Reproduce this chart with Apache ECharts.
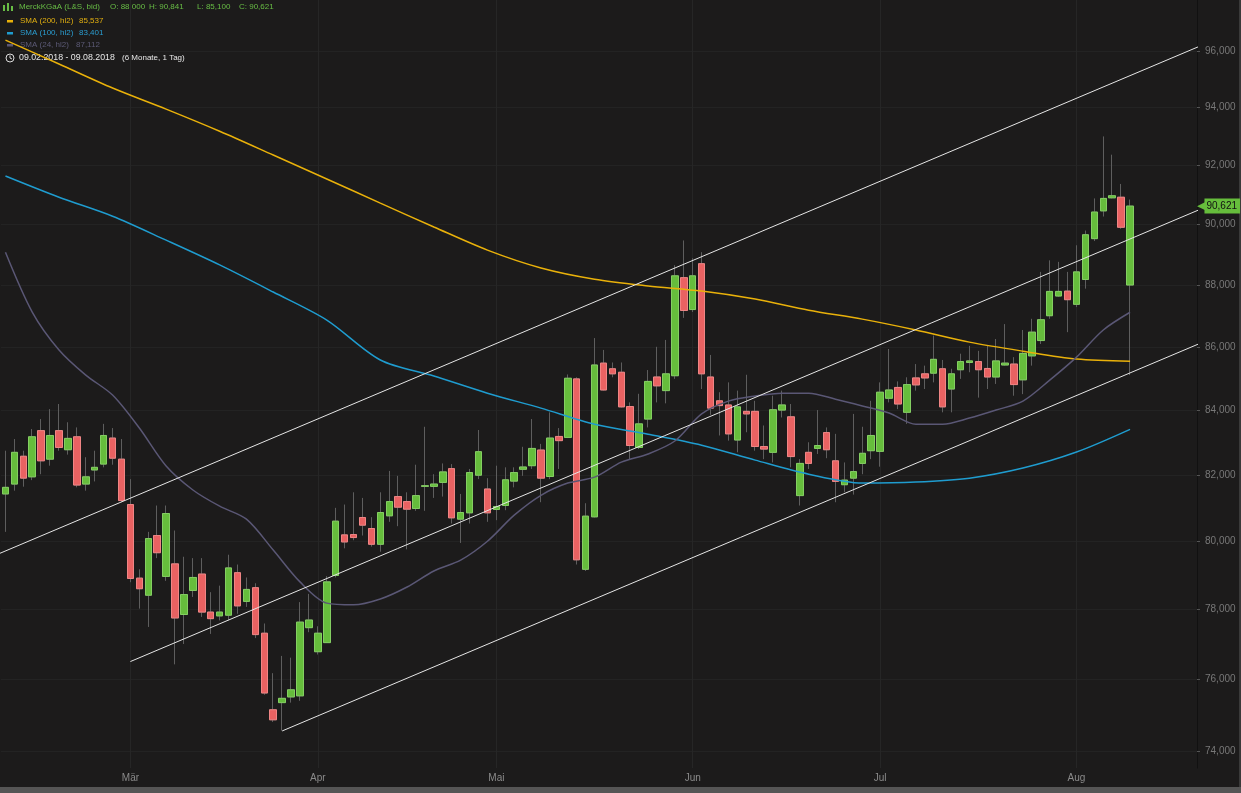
<!DOCTYPE html>
<html><head><meta charset="utf-8">
<script src="https://cdn.jsdelivr.net/npm/echarts@6/dist/echarts.min.js"></script>
<style>html,body{margin:0;padding:0;background:#1c1b1b;}#c{width:1241px;height:793px;}</style>
</head><body><div id="c"></div>
<script>
// ---- categories ----
const startDate = '2018-02-09';
const endDate = '2018-08-20';          // axis runs 7 trading days beyond the last candle
const holidays = ['2018-03-30', '2018-04-02', '2018-05-01'];
const monthNames = ['Jan','Feb','Mär','Apr','Mai','Jun','Jul','Aug','Sep','Okt','Nov','Dez'];
const yTicks = [74, 76, 78, 80, 82, 84, 86, 88, 90, 92, 94, 96];

// ---- OHLC ----
const open = [81.42,81.72,82.57,81.94,83.36,82.48,83.36,82.77,83.17,81.72,82.15,82.33,83.13,82.48,
81.10,78.91,78.41,80.17,78.96,79.33,77.85,78.55,79.03,77.92,77.81,77.83,79.07,78.23,78.63,77.31,75.14,75.34,75.50,75.53,77.47,
76.78,77.04,78.99,80.19,80.20,80.71,80.38,79.91,80.76,81.34,81.19,80.98,81.65,81.65,81.77,82.19,80.66,80.85,81.99,81.57,
80.95,81.07,81.81,82.17,82.28,82.76,81.95,83.18,83.15,84.98,79.17,80.73,85.48,85.30,85.19,84.11,82.84,83.72,85.04,84.61,85.08,88.24,
87.20,88.70,85.04,84.29,84.16,83.07,83.96,83.96,82.87,82.69,84.00,83.79,81.37,82.69,82.81,83.30,82.43,81.70,81.90,82.35,82.74,
82.72,84.37,84.71,83.93,85.01,85.14,85.16,85.30,84.66,85.27,85.50,85.53,85.31,85.04,85.42,85.45,84.95,85.71,86.20,87.00,87.64,87.80,
87.37,88.18,89.53,90.46,90.90,90.92,88.00];
const close = [81.62,82.69,81.90,83.17,82.43,83.21,82.84,83.12,81.69,81.94,82.23,83.21,82.51,81.22,
78.90,78.60,80.08,79.66,80.83,77.75,78.43,78.93,77.92,77.73,77.92,79.21,78.10,78.58,77.27,75.61,74.86,75.46,75.70,77.63,77.69,
77.31,78.80,80.60,79.98,80.11,80.48,79.91,80.86,81.19,81.02,80.96,81.37,81.67,81.72,82.09,80.70,80.86,82.07,82.71,80.85,
81.04,81.85,82.07,82.24,82.81,81.90,83.13,83.05,85.00,79.45,80.75,85.42,84.63,85.14,84.10,82.90,83.57,84.90,84.76,85.14,88.30,87.17,
88.30,85.14,84.06,84.14,83.26,84.10,83.88,82.87,82.79,84.01,84.16,82.56,82.35,82.35,82.90,82.77,81.80,81.84,82.10,82.66,83.21,
84.56,84.63,84.19,84.80,84.79,85.01,85.60,84.10,85.14,85.53,85.55,85.27,85.04,85.55,85.48,84.80,85.79,86.47,86.87,87.79,87.79,87.52,
88.43,89.66,90.42,90.88,90.97,89.91,90.621];
const low = [80.28,81.52,81.64,81.84,82.02,82.28,82.74,82.62,81.62,81.52,81.80,82.23,82.31,81.17,
78.79,78.02,77.49,79.50,78.83,76.42,77.00,78.36,77.78,77.29,77.68,77.68,77.87,78.07,77.17,75.56,74.80,74.56,75.34,75.39,77.34,
76.70,77.03,78.93,79.79,80.03,80.17,79.84,79.69,80.58,80.45,79.76,80.91,80.91,81.30,81.34,80.53,79.95,80.53,81.87,80.58,
80.63,80.93,81.62,81.97,82.18,81.17,81.87,82.18,83.13,79.31,79.12,80.71,84.61,85.03,84.08,82.48,82.79,83.46,84.24,84.21,84.98,86.93,
87.12,84.66,83.85,83.21,83.05,82.69,83.31,82.74,82.48,82.38,83.77,82.23,81.07,82.18,82.64,82.51,81.17,81.47,81.40,82.02,82.48,
82.25,84.24,84.03,83.57,84.61,84.66,84.87,83.93,83.93,84.98,85.19,84.39,84.66,84.82,85.40,84.45,84.50,85.40,86.09,86.90,87.61,86.47,
87.28,87.88,89.45,90.27,90.88,89.86,85.10];
const high = [82.74,83.10,82.74,83.41,83.72,84.03,84.19,83.62,83.46,82.54,82.74,83.57,83.44,83.10,
81.87,79.17,80.28,81.07,81.07,80.32,79.54,79.50,79.50,78.50,78.69,79.60,79.31,78.93,78.76,77.59,76.17,76.66,76.61,78.21,78.45,
77.51,78.97,81.00,81.10,81.47,81.30,80.72,81.47,82.12,81.97,81.47,82.31,83.48,82.02,82.35,82.33,81.42,82.18,83.38,81.90,
82.28,82.23,82.23,82.86,83.72,82.95,83.93,83.44,85.12,85.03,81.14,86.28,85.90,85.50,85.50,84.24,84.51,85.26,86.00,86.22,88.65,89.47,
88.88,89.08,85.74,84.56,84.87,84.61,85.11,84.29,83.52,84.45,84.61,84.19,82.48,83.00,84.00,83.46,83.26,82.38,83.88,83.48,84.29,
84.87,85.93,84.90,85.03,85.45,85.40,86.36,85.58,85.30,85.78,86.03,85.87,86.03,86.25,86.73,85.67,86.54,86.90,88.43,88.81,88.76,88.43,
89.31,89.80,90.88,93.00,92.37,91.37,90.841];

// ---- moving averages, read at sampled candles [candle index, value] ----
const sma200 = [[0,96.39],[6,95.54],[12,94.69],[18,93.95],[24,93.18],[30,92.36],[36,91.54],[42,90.72],[48,89.92],[54,89.15],
[60,88.56],[66,88.19],[72,87.97],[78,87.80],[84,87.54],[90,87.18],[96,86.89],[102,86.54],[108,86.15],[114,85.86],[120,85.61],[126,85.537]];
const sma100 = [[0,91.64],[6,90.92],[12,90.28],[18,89.48],[24,88.66],[30,87.77],[36,86.86],[42,85.58],[48,85.07],[54,84.53],
[60,84.06],[66,83.56],[72,83.25],[78,82.91],[84,82.45],[90,82.02],[96,81.75],[102,81.78],[108,81.90],[114,82.21],[120,82.70],[126,83.401]];
const sma24 = [[0,89.08],[3,87.12],[6,85.90],[9,85.10],[12,84.47],[15,83.44],[18,82.27],[21,81.54],[24,81.05],[27,80.66],[30,79.74],
[33,78.80],[36,78.18],[39,78.13],[42,78.30],[45,78.65],[48,79.12],[51,79.44],[54,80.00],[57,80.78],[60,81.38],[63,81.75],[66,81.93],
[69,82.39],[72,82.64],[75,83.04],[78,83.88],[81,84.28],[84,84.44],[87,84.53],[90,84.53],[93,84.34],[96,84.13],[99,83.91],[102,83.56],
[105,83.56],[108,83.75],[111,84.00],[114,84.28],[117,84.94],[120,85.67],[123,86.54],[126,87.112]];

// ---- channel lines [candle index, value] ----
const trendUpper = [[-1,79.60],[134,96.20]];
const trendMiddle = [[14,76.50],[134,90.53]];
const trendLower = [[31,74.55],[134,86.13]];

// ---- legend texts ----
const legendMain = ['MerckKGaA (L&S, bid)', 'O: 88,000', 'H: 90,841', 'L: 85,100', 'C: 90,621'];
const legendSma = [['SMA (200, hl2)', '85,537'], ['SMA (100, hl2)', '83,401'], ['SMA (24, hl2)', '87,112']];
const legendRange = ['09.02.2018 - 09.08.2018', '(6 Monate, 1 Tag)'];

function buildDates() {
  const out = [];
  const d = new Date(startDate + 'T12:00:00Z');
  const end = new Date(endDate + 'T12:00:00Z');
  while (d <= end) {
    const day = d.getUTCDay();
    const s = d.toISOString().slice(0, 10);
    if (day !== 0 && day !== 6 && holidays.indexOf(s) < 0) out.push(s);
    d.setUTCDate(d.getUTCDate() + 1);
  }
  return out;
}
const dates = buildDates();
const isMonthStart = (i) => i > 0 && dates[i].slice(5, 7) !== dates[i - 1].slice(5, 7);
const fmtDe = (v) => v.toFixed(3).replace('.', ',');

const wickData = open.map((o, i) => [o, close[i], low[i], high[i]]);
const bodyData = open.map((o, i) => [o, close[i], Math.min(o, close[i]), Math.max(o, close[i])]);
const lastClose = close[close.length - 1];

const COL_UP = '#66bd3c', COL_DN = '#e96262';
const SMA_COLS = ['#e9b10a', '#1f9ccf', '#5a5775'];
const SMA_TXT = ['#e0ae10', '#2a9dd0', '#5c5a76'];
const FONT = '"Liberation Sans", Arial, sans-serif';
const LFONT = '8px ' + FONT;

const graphics = [
  { type: 'rect', shape: { x: 3, y: 5, width: 2, height: 6 }, style: { fill: '#68bd45' } },
  { type: 'rect', shape: { x: 7, y: 3, width: 2, height: 8 }, style: { fill: '#68bd45' } },
  { type: 'rect', shape: { x: 11, y: 6, width: 2, height: 5 }, style: { fill: '#68bd45' } }
];
const mainX = [19, 110, 149, 197, 239];
legendMain.forEach((t, k) => graphics.push({ type: 'text', x: mainX[k], y: 7, style: { text: t, fill: '#68bd45', font: LFONT, verticalAlign: 'middle' } }));
const smaY = [21, 33, 45], smaValX = [79, 79, 76];
legendSma.forEach((pair, k) => {
  graphics.push({ type: 'rect', shape: { x: 7, y: smaY[k] - 1, width: 6, height: 2.5 }, style: { fill: SMA_COLS[k] } });
  graphics.push({ type: 'text', x: 20, y: smaY[k], style: { text: pair[0], fill: SMA_TXT[k], font: LFONT, verticalAlign: 'middle' } });
  graphics.push({ type: 'text', x: smaValX[k], y: smaY[k], style: { text: pair[1], fill: SMA_TXT[k], font: LFONT, verticalAlign: 'middle' } });
});
graphics.push({ type: 'circle', shape: { cx: 10, cy: 58, r: 4 }, style: { fill: 'none', stroke: '#dddddd', lineWidth: 1 } });
graphics.push({ type: 'polyline', shape: { points: [[10, 55.5], [10, 58], [12, 59]] }, style: { fill: 'none', stroke: '#dddddd', lineWidth: 1 } });
graphics.push({ type: 'text', x: 19, y: 58, style: { text: legendRange[0], fill: '#e6e6e6', font: '8.8px ' + FONT, verticalAlign: 'middle' } });
graphics.push({ type: 'text', x: 122, y: 58, style: { text: legendRange[1], fill: '#e6e6e6', font: LFONT, verticalAlign: 'middle' } });
graphics.push({ type: 'rect', shape: { x: 0, y: 787, width: 1241, height: 6 }, style: { fill: '#555555' }, silent: true });
graphics.push({ type: 'rect', shape: { x: 1239, y: 0, width: 2, height: 787 }, style: { fill: '#3a3a3a' }, silent: true });

const chart = echarts.init(document.getElementById('c'), null, { renderer: 'canvas' });
chart.setOption({
  backgroundColor: '#1c1b1b',
  animation: false,
  grid: { left: 1, right: 44, top: 0, bottom: 25 },
  xAxis: {
    type: 'category', data: dates, boundaryGap: true,
    axisLine: { show: false },
    axisTick: { show: false, alignWithLabel: true },
    axisLabel: {
      interval: (i) => isMonthStart(i),
      formatter: (v) => monthNames[parseInt(v.slice(5, 7), 10) - 1],
      color: '#8a8a8a', fontSize: 10, fontFamily: FONT, margin: 5
    },
    splitLine: { show: true, interval: (i) => isMonthStart(i), alignWithLabel: true, lineStyle: { color: '#262626', width: 1 } }
  },
  yAxis: {
    type: 'log', position: 'right', min: 73.53, max: 97.84, logBase: 10,
    axisLine: { show: true, lineStyle: { color: '#111111' } },
    axisTick: { show: true, length: 3, customValues: yTicks, lineStyle: { color: '#555' } },
    axisLabel: { customValues: yTicks, formatter: (v) => fmtDe(v), color: '#787878', fontSize: 10, fontFamily: FONT, margin: 8 },
    splitLine: { show: true, lineStyle: { color: '#232323', width: 1 } }
  },
  series: [
    { name: 'wick', type: 'candlestick', data: wickData, barWidth: 7, silent: true,
      itemStyle: { color: 'rgba(0,0,0,0)', color0: 'rgba(0,0,0,0)', borderColor: '#5e5e5e', borderColor0: '#5e5e5e', borderWidth: 1 } },
    { name: 'body', type: 'candlestick', data: bodyData, barWidth: 7, silent: true,
      itemStyle: { color: COL_UP, color0: COL_DN, borderColor: '#84cf62', borderColor0: '#f08585', borderWidth: 1 } },
    { name: 'SMA200', type: 'line', data: sma200, smooth: 0.3, symbol: 'none', silent: true, lineStyle: { color: SMA_COLS[0], width: 1.5 } },
    { name: 'SMA100', type: 'line', data: sma100, smooth: 0.3, symbol: 'none', silent: true, lineStyle: { color: SMA_COLS[1], width: 1.5 } },
    { name: 'SMA24', type: 'line', data: sma24, smooth: 0.3, symbol: 'none', silent: true, lineStyle: { color: SMA_COLS[2], width: 1.5 } },
    { name: 'T1', type: 'line', data: trendUpper, symbol: 'none', silent: true, lineStyle: { color: '#e6e6e6', width: 1 } },
    { name: 'T2', type: 'line', data: trendMiddle, symbol: 'none', silent: true, lineStyle: { color: '#e6e6e6', width: 1 } },
    { name: 'T3', type: 'line', data: trendLower, symbol: 'none', silent: true, lineStyle: { color: '#e6e6e6', width: 1 },
      markLine: {
        silent: true, symbol: 'none', lineStyle: { color: 'rgba(0,0,0,0)', width: 0 },
        label: {
          show: true, position: 'end', distance: 0, opacity: 1,
          formatter: '{a|◀}{b|' + fmtDe(lastClose) + '}',
          rich: {
            a: { color: COL_UP, fontSize: 11, padding: [0, -1, 0, 0], fontFamily: 'DejaVu Sans' },
            b: { backgroundColor: COL_UP, color: '#111', fontSize: 10, fontFamily: FONT, padding: [3, 3, 2, 2] }
          }
        },
        data: [{ yAxis: lastClose }]
      } }
  ],
  graphic: graphics
});
</script>
</body></html>
